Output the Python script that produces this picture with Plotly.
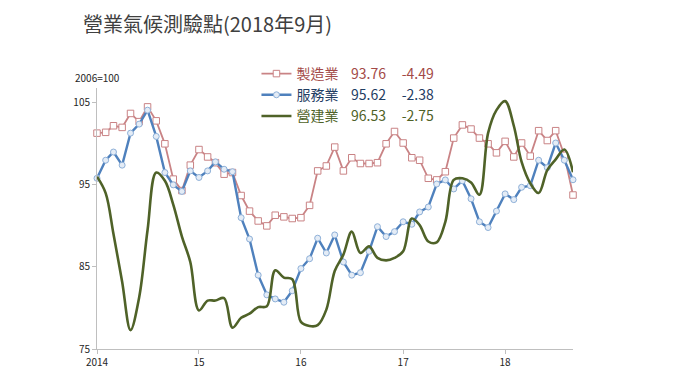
import pandas as pd
import plotly.graph_objects as go

# ---- data (monthly, Jan 2014 – Sep 2018) ----
months = pd.date_range("2014-01-01", periods=57, freq="MS")

manufacturing = [
    101.3, 101.4, 102.2, 102.0, 103.7, 102.7, 104.5, 102.8, 100.0, 95.7, 94.3, 97.4,
    99.3, 98.4, 97.7, 96.3, 96.5, 93.7, 91.8, 90.6, 90.0, 91.3, 91.1, 90.9,
    91.0, 92.5, 96.7, 97.3, 99.6, 96.7, 98.3, 97.6, 97.6, 97.7, 100.0, 101.5,
    100.1, 98.3, 98.0, 95.8, 95.6, 96.6, 100.7, 102.3, 101.8, 100.7, 100.0, 98.9,
    100.3, 98.4, 100.1, 98.5, 101.6, 100.4, 101.6, 98.6, 93.76,
]
services = [
    95.8, 98.0, 99.0, 97.4, 101.3, 102.4, 104.1, 100.9, 96.5, 95.0, 94.2, 96.7,
    95.9, 96.7, 97.8, 96.9, 96.6, 91.0, 88.4, 84.0, 81.6, 81.1, 80.7, 82.1,
    84.8, 86.0, 88.5, 86.7, 88.9, 85.6, 84.0, 84.3, 86.9, 89.9, 88.7, 89.3,
    90.5, 90.2, 91.7, 92.3, 95.1, 95.6, 94.5, 95.5, 93.3, 90.5, 89.8, 91.8,
    93.9, 93.2, 94.7, 94.9, 98.0, 97.1, 100.1, 98.0, 95.62,
]
construction = [
    96.0, 94.0, 89.0, 83.2, 77.3, 81.3, 89.5, 96.5, 95.5, 92.6, 88.7, 85.6,
    79.7, 80.9, 80.9, 81.2, 77.6, 78.8, 79.3, 80.1, 80.2, 84.6, 83.7, 83.5,
    78.3, 77.8, 77.9, 79.8, 84.5, 86.5, 89.3, 86.7, 87.5, 86.1, 85.8, 86.1,
    86.9, 90.9, 90.1, 88.1, 88.0, 90.5, 95.6, 95.8, 95.3, 93.8, 101.3, 104.1,
    105.2, 102.2, 97.8, 95.2, 94.0, 96.8, 98.1, 99.3, 96.53,
]

series_names = ["製造業", "服務業", "營建業"]
latest_values = ["93.76", "95.62", "96.53"]
changes = ["-4.49", "-2.38", "-2.75"]

year_ticks = ["2014-01-01", "2015-01-01", "2016-01-01", "2017-01-01", "2018-01-01"]
year_labels = ["2014", "15", "16", "17", "18"]
y_ticks = [75, 85, 95, 105]

title_text = "營業氣候測驗點(2018年9月)"
unit_text = "2006=100"

# ---- styles ----
FONT = "Noto Sans CJK TC, Noto Sans, sans-serif"
RED_LINE = "#C98385"
RED_TEXT = "#A34A47"
BLUE_LINE = "#4F81BD"
BLUE_TEXT = "#1F3D63"
GREEN_LINE = "#4F6228"
GREEN_TEXT = "#4F6228"
NB = "\u00a0"

# the page body adds an 8px offset; the figure is sized/placed to compensate
W, H = 672, 375


def legend_name(name, val, chg, color):
    return (f"<span style='color:{color}'>{name}{NB*4}{val}{NB*5}{chg}</span>")


fig = go.Figure()

fig.add_trace(go.Scatter(
    x=months, y=manufacturing, mode="lines+markers",
    name=legend_name(series_names[0], latest_values[0], changes[0], RED_TEXT),
    line=dict(color=RED_LINE, width=1.8),
    marker=dict(symbol="square", size=6.5, color="white",
                line=dict(color=RED_LINE, width=1)),
    cliponaxis=False, legendgroup="a",
))
fig.add_trace(go.Scatter(
    x=months, y=services, mode="lines+markers",
    name=legend_name(series_names[1], latest_values[1], changes[1], BLUE_TEXT),
    line=dict(color=BLUE_LINE, width=2.4),
    marker=dict(symbol="circle", size=6, color="#E4ECF6",
                line=dict(color="#8EB0D8", width=1)),
    cliponaxis=False, legendgroup="b",
))
fig.add_trace(go.Scatter(
    x=months, y=construction, mode="lines",
    name=legend_name(series_names[2], latest_values[2], changes[2], GREEN_TEXT),
    line=dict(color=GREEN_LINE, width=2.6, shape="spline", smoothing=1.0),
    cliponaxis=False, legendgroup="c",
))

fig.update_layout(
    width=W, height=H,
    margin=dict(l=89, r=107, t=80, b=34),
    paper_bgcolor="white", plot_bgcolor="white",
    font=dict(family=FONT, size=10, color="#262626"),
    title=dict(text=title_text, x=75 / W, xanchor="left", xref="container",
               y=1 - 17 / H, yanchor="middle", yref="container",
               font=dict(family=FONT, size=20, color="#404040")),
    showlegend=True,
    legend=dict(x=0.335, y=1.115, xanchor="left", yanchor="top",
                font=dict(family=FONT, size=14), itemwidth=30,
                tracegroupgap=4, bgcolor="rgba(0,0,0,0)", traceorder="normal"),
    xaxis=dict(
        range=["2014-01-01", "2018-09-01"],
        tickvals=year_ticks, ticktext=year_labels,
        showline=True, linecolor="#BFBFBF", linewidth=1,
        ticks="outside", ticklen=4, tickcolor="#BFBFBF",
        showgrid=False, zeroline=False,
        tickfont=dict(size=10, color="#262626"),
    ),
    yaxis=dict(
        range=[75, 106.8], tickvals=y_ticks,
        showline=True, linecolor="#BFBFBF", linewidth=1,
        ticks="outside", ticklen=4, tickcolor="#BFBFBF",
        showgrid=False, zeroline=False,
        tickfont=dict(size=10, color="#262626"),
    ),
    annotations=[dict(
        text=unit_text, xref="paper", yref="paper", x=0, y=1.042,
        xanchor="center", yanchor="middle", showarrow=False,
        font=dict(family=FONT, size=10, color="#262626"),
    )],
)

fig.write_html("out.html")
